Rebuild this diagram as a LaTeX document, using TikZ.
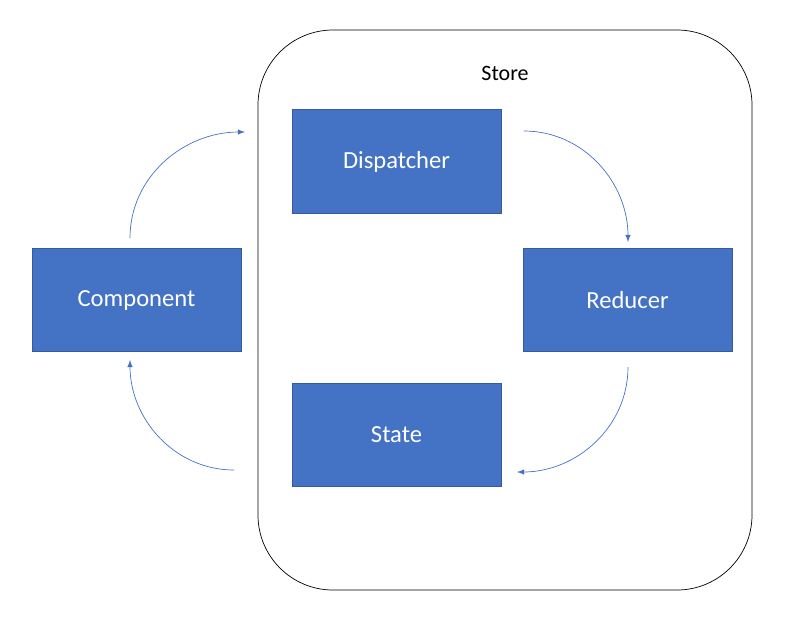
\documentclass[tikz,border=0pt]{standalone}
\usepackage{fontspec}
\setmainfont{Carlito}
\definecolor{boxblue}{HTML}{4472C4}
\begin{document}
\begin{tikzpicture}[x=0.02cm,y=-0.02cm,
    block/.style={draw=boxblue!80!black,fill=boxblue,text=white,minimum width=4.18cm,minimum height=2.07cm,font=\fontsize{14}{16}\selectfont},
    flow/.style={->,>=latex,draw=boxblue,thin}]
    \useasboundingbox (0,0) rectangle (799,627);
    \draw[rounded corners=1.5cm] (258,30) rectangle (752,590);
    \node (store) at (505,73) {\fontsize{12.5}{14}\selectfont Store};
    \node[block] (disp) at (396.5,161.5) {Dispatcher};
    \node[block] (red) at (627.5,300) {Reducer};
    \node[block] (state) at (396.5,435) {State};
    \node[block] (comp) at (136.5,300) {Component};
    % free ends of the curved arrows
    \coordinate (a1) at (130,238);
    \coordinate (a2) at (245,132);
    \coordinate (b1) at (524,131);
    \coordinate (b2) at (628,242);
    \coordinate (c1) at (628,367);
    \coordinate (c2) at (517,472);
    \coordinate (d1) at (234,470);
    \coordinate (d2) at (130,360);
    \draw[flow] (a1) to[out=90,in=180] (a2);
    \draw[flow] (b1) to[out=0,in=90] (b2);
    \draw[flow] (c1) to[out=-90,in=0] (c2);
    \draw[flow] (d1) to[out=180,in=-90] (d2);
\end{tikzpicture}
\end{document}
